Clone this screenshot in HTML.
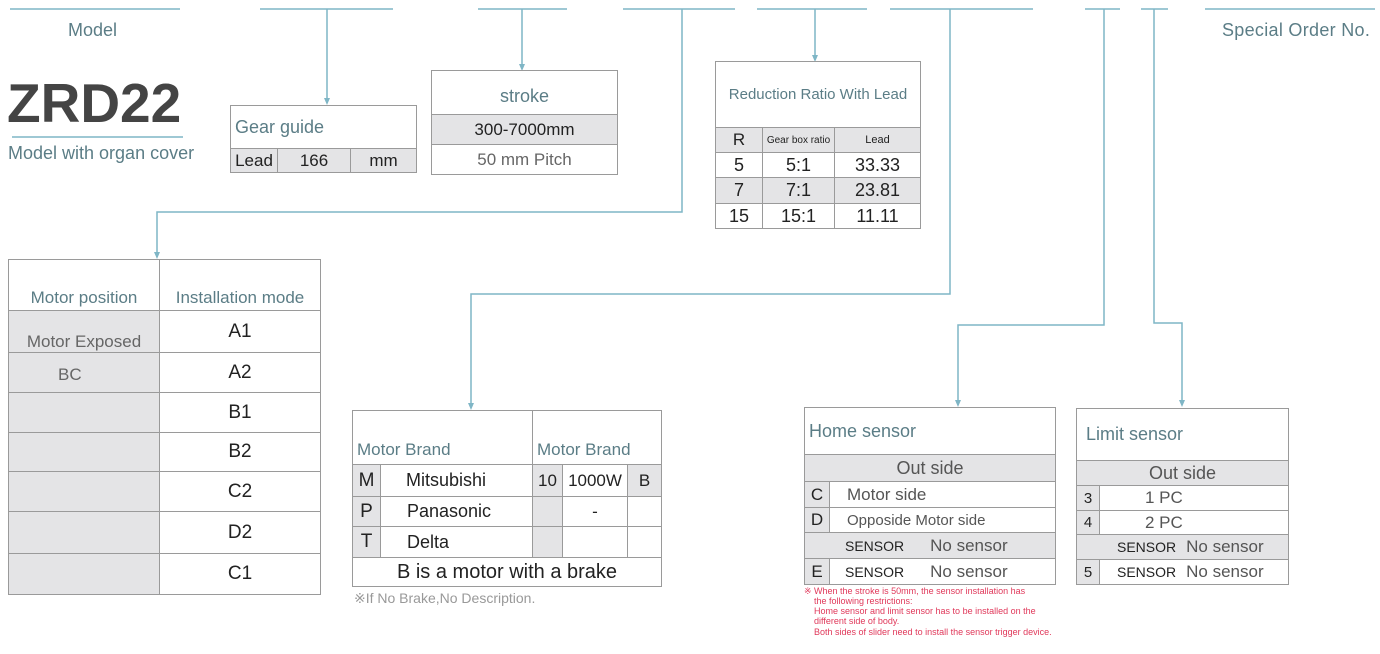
<!DOCTYPE html>
<html><head><meta charset="utf-8"><style>
*{margin:0;padding:0;box-sizing:border-box}
body{width:1380px;height:654px;background:#fff;position:relative;overflow:hidden;font-family:"Liberation Sans",sans-serif;color:#222}
.a{position:absolute}
.c{position:absolute;border:1px solid #9a9a9a;display:flex;align-items:center;justify-content:center;white-space:nowrap}
.g{background:#e4e4e6}
.t{color:#5b7d86}
svg{position:absolute;left:0;top:0}
</style></head><body>
<svg width="1380" height="654">
<g stroke="#7fb6c6" stroke-width="1.5" fill="none">
<path d="M10 9H180M260 9H393M478 9H567M623 9H735M757 9H867M890 9H1033M1085 9H1120M1141 9H1168M1205 9H1375"/>
<path d="M327 9V103M522 9V69M682 9V212H157V257M815 9V60M950 9V294H471V407M1104 9V325H958V405M1154 9V323H1182V405"/>
<path d="M12 137H183"/>
</g>
<g fill="#7fb6c6">
<path d="M324 98L330 98L327 105Z"/><path d="M519 64L525 64L522 71Z"/><path d="M154 252L160 252L157 259Z"/><path d="M812 55L818 55L815 62Z"/><path d="M468 403L474 403L471 410Z"/><path d="M955 400L961 400L958 407Z"/><path d="M1179 400L1185 400L1182 407Z"/>
</g>
</svg>
<div class="a t" style="left:68px;top:20px;font-size:18px">Model</div>
<div class="a t" style="left:1222px;top:20px;font-size:18px;letter-spacing:0.3px">Special Order No.</div>
<div class="a" style="left:7px;top:71px;font-size:55px;font-weight:bold;color:#444">ZRD22</div>
<div class="a t" style="left:8px;top:143px;font-size:18px">Model with organ cover</div>

<div class="c t" style="left:230px;top:105px;width:187px;height:44px;justify-content:flex-start;padding-left:4px;font-size:18px">Gear guide</div>
<div class="c g" style="left:230px;top:148px;width:48px;height:25px;font-size:17px">Lead</div>
<div class="c g" style="left:277px;top:148px;width:74px;height:25px;font-size:17px">166</div>
<div class="c g" style="left:350px;top:148px;width:67px;height:25px;font-size:17px">mm</div>

<div class="c t" style="left:431px;top:70px;width:187px;height:45px;font-size:18px;padding-top:8px">stroke</div>
<div class="c g" style="left:431px;top:114px;width:187px;height:31px;font-size:17px">300-7000mm</div>
<div class="c" style="left:431px;top:144px;width:187px;height:31px;font-size:17px;color:#666">50 mm Pitch</div>

<div class="c t" style="left:715px;top:61px;width:206px;height:67px;font-size:15px">Reduction Ratio With Lead</div>
<div class="c g" style="left:715px;top:127px;width:48px;height:26px;font-size:17px">R</div>
<div class="c g" style="left:762px;top:127px;width:73px;height:26px;font-size:10px">Gear box ratio</div>
<div class="c g" style="left:834px;top:127px;width:87px;height:26px;font-size:11px">Lead</div>
<div class="c" style="left:715px;top:152px;width:48px;height:26px;font-size:18px">5</div>
<div class="c" style="left:762px;top:152px;width:73px;height:26px;font-size:18px">5:1</div>
<div class="c" style="left:834px;top:152px;width:87px;height:26px;font-size:18px">33.33</div>
<div class="c g" style="left:715px;top:177px;width:48px;height:27px;font-size:18px">7</div>
<div class="c g" style="left:762px;top:177px;width:73px;height:27px;font-size:18px">7:1</div>
<div class="c g" style="left:834px;top:177px;width:87px;height:27px;font-size:18px">23.81</div>
<div class="c" style="left:715px;top:203px;width:48px;height:26px;font-size:18px">15</div>
<div class="c" style="left:762px;top:203px;width:73px;height:26px;font-size:18px">15:1</div>
<div class="c" style="left:834px;top:203px;width:87px;height:26px;font-size:18px">11.11</div>

<div class="c t" style="left:8px;top:259px;width:152px;height:52px;font-size:17px;align-items:flex-end;padding-bottom:2px">Motor position</div>
<div class="c t" style="left:159px;top:259px;width:162px;height:52px;font-size:17px;align-items:flex-end;padding-bottom:2px">Installation mode</div>
<div class="c g t" style="left:8px;top:310px;width:152px;height:43px;font-size:17px;align-items:flex-end;padding-bottom:0;color:#666">Motor Exposed</div>
<div class="c g" style="left:8px;top:352px;width:152px;height:41px;font-size:17px;color:#666;justify-content:flex-start;padding-left:49px;align-items:flex-start;padding-top:12px">BC</div>
<div class="c g" style="left:8px;top:392px;width:152px;height:41px"></div>
<div class="c g" style="left:8px;top:432px;width:152px;height:40px"></div>
<div class="c g" style="left:8px;top:471px;width:152px;height:41px"></div>
<div class="c g" style="left:8px;top:511px;width:152px;height:43px"></div>
<div class="c g" style="left:8px;top:553px;width:152px;height:42px"></div>
<div class="c" style="left:159px;top:310px;width:162px;height:43px;font-size:19px">A1</div>
<div class="c" style="left:159px;top:352px;width:162px;height:41px;font-size:19px">A2</div>
<div class="c" style="left:159px;top:392px;width:162px;height:41px;font-size:19px">B1</div>
<div class="c" style="left:159px;top:432px;width:162px;height:40px;font-size:19px">B2</div>
<div class="c" style="left:159px;top:471px;width:162px;height:41px;font-size:19px">C2</div>
<div class="c" style="left:159px;top:511px;width:162px;height:43px;font-size:19px">D2</div>
<div class="c" style="left:159px;top:553px;width:162px;height:42px;font-size:19px">C1</div>

<div class="c t" style="left:352px;top:410px;width:181px;height:55px;font-size:17px;align-items:flex-end;justify-content:flex-start;padding-left:4px;padding-bottom:4px">Motor Brand</div>
<div class="c t" style="left:532px;top:410px;width:130px;height:55px;font-size:17px;align-items:flex-end;justify-content:flex-start;padding-left:4px;padding-bottom:4px">Motor Brand</div>
<div class="c g" style="left:352px;top:464px;width:29px;height:33px;font-size:19px">M</div>
<div class="c" style="left:380px;top:464px;width:153px;height:33px;font-size:18px;justify-content:flex-start;padding-left:25px">Mitsubishi</div>
<div class="c g" style="left:532px;top:464px;width:31px;height:33px;font-size:17px">10</div>
<div class="c" style="left:562px;top:464px;width:66px;height:33px;font-size:17px">1000W</div>
<div class="c g" style="left:627px;top:464px;width:35px;height:33px;font-size:17px">B</div>
<div class="c g" style="left:352px;top:496px;width:29px;height:31px;font-size:19px">P</div>
<div class="c" style="left:380px;top:496px;width:153px;height:31px;font-size:18px;justify-content:flex-start;padding-left:26px">Panasonic</div>
<div class="c g" style="left:532px;top:496px;width:31px;height:31px"></div>
<div class="c" style="left:562px;top:496px;width:66px;height:31px;font-size:17px">-</div>
<div class="c" style="left:627px;top:496px;width:35px;height:31px"></div>
<div class="c g" style="left:352px;top:526px;width:29px;height:32px;font-size:19px">T</div>
<div class="c" style="left:380px;top:526px;width:153px;height:32px;font-size:18px;justify-content:flex-start;padding-left:26px">Delta</div>
<div class="c g" style="left:532px;top:526px;width:31px;height:32px"></div>
<div class="c" style="left:562px;top:526px;width:66px;height:32px"></div>
<div class="c" style="left:627px;top:526px;width:35px;height:32px"></div>
<div class="c" style="left:352px;top:557px;width:310px;height:30px;font-size:20px">B is a motor with a brake</div>
<div class="a" style="left:354px;top:590px;font-size:14px;color:#999">※If No Brake,No Description.</div>

<div class="c t" style="left:804px;top:407px;width:252px;height:48px;font-size:18px;justify-content:flex-start;padding-left:4px">Home sensor</div>
<div class="c g" style="left:804px;top:454px;width:252px;height:28px;font-size:18px;color:#555">Out side</div>
<div class="c g" style="left:804px;top:481px;width:26px;height:27px;font-size:17px">C</div>
<div class="c" style="left:829px;top:481px;width:227px;height:27px;font-size:17px;color:#555;justify-content:flex-start;padding-left:17px">Motor side</div>
<div class="c g" style="left:804px;top:507px;width:26px;height:26px;font-size:17px">D</div>
<div class="c" style="left:829px;top:507px;width:227px;height:26px;font-size:15px;color:#555;justify-content:flex-start;padding-left:17px">Opposide Motor side</div>
<div class="c g" style="left:804px;top:532px;width:252px;height:27px;font-size:14px;justify-content:flex-start;padding-left:40px">SENSOR<span style="font-size:17px;color:#555;margin-left:26px">No sensor</span></div>
<div class="c g" style="left:804px;top:558px;width:26px;height:27px;font-size:17px">E</div>
<div class="c" style="left:829px;top:558px;width:227px;height:27px;font-size:14px;justify-content:flex-start;padding-left:15px">SENSOR<span style="font-size:17px;color:#555;margin-left:26px">No sensor</span></div>
<div class="a" style="left:804px;top:587px;font-size:9px;line-height:9.5px;color:#e0385a;width:260px">※ When the stroke is 50mm, the sensor installation has<br>&nbsp;&nbsp;&nbsp;&nbsp;the following restrictions:<br><span style="display:block;margin-top:1px">&nbsp;&nbsp;&nbsp;&nbsp;Home sensor and limit sensor has to be installed on the<br>&nbsp;&nbsp;&nbsp;&nbsp;different side of body.</span><span style="display:block;margin-top:2px">&nbsp;&nbsp;&nbsp;&nbsp;Both sides of slider need to install the sensor trigger device.</span></div>

<div class="c t" style="left:1076px;top:408px;width:213px;height:53px;font-size:18px;justify-content:flex-start;padding-left:9px">Limit sensor</div>
<div class="c g" style="left:1076px;top:460px;width:213px;height:26px;font-size:18px;color:#555">Out side</div>
<div class="c g" style="left:1076px;top:485px;width:24px;height:26px;font-size:15px">3</div>
<div class="c" style="left:1099px;top:485px;width:190px;height:26px;font-size:17px;color:#555;justify-content:flex-start;padding-left:45px">1 PC</div>
<div class="c g" style="left:1076px;top:510px;width:24px;height:25px;font-size:15px">4</div>
<div class="c" style="left:1099px;top:510px;width:190px;height:25px;font-size:17px;color:#555;justify-content:flex-start;padding-left:45px">2 PC</div>
<div class="c g" style="left:1076px;top:534px;width:213px;height:26px;font-size:14px;justify-content:flex-start;padding-left:40px">SENSOR<span style="font-size:17px;color:#555;margin-left:10px">No sensor</span></div>
<div class="c g" style="left:1076px;top:559px;width:24px;height:26px;font-size:15px">5</div>
<div class="c" style="left:1099px;top:559px;width:190px;height:26px;font-size:14px;justify-content:flex-start;padding-left:17px">SENSOR<span style="font-size:17px;color:#555;margin-left:10px">No sensor</span></div>
</body></html>
